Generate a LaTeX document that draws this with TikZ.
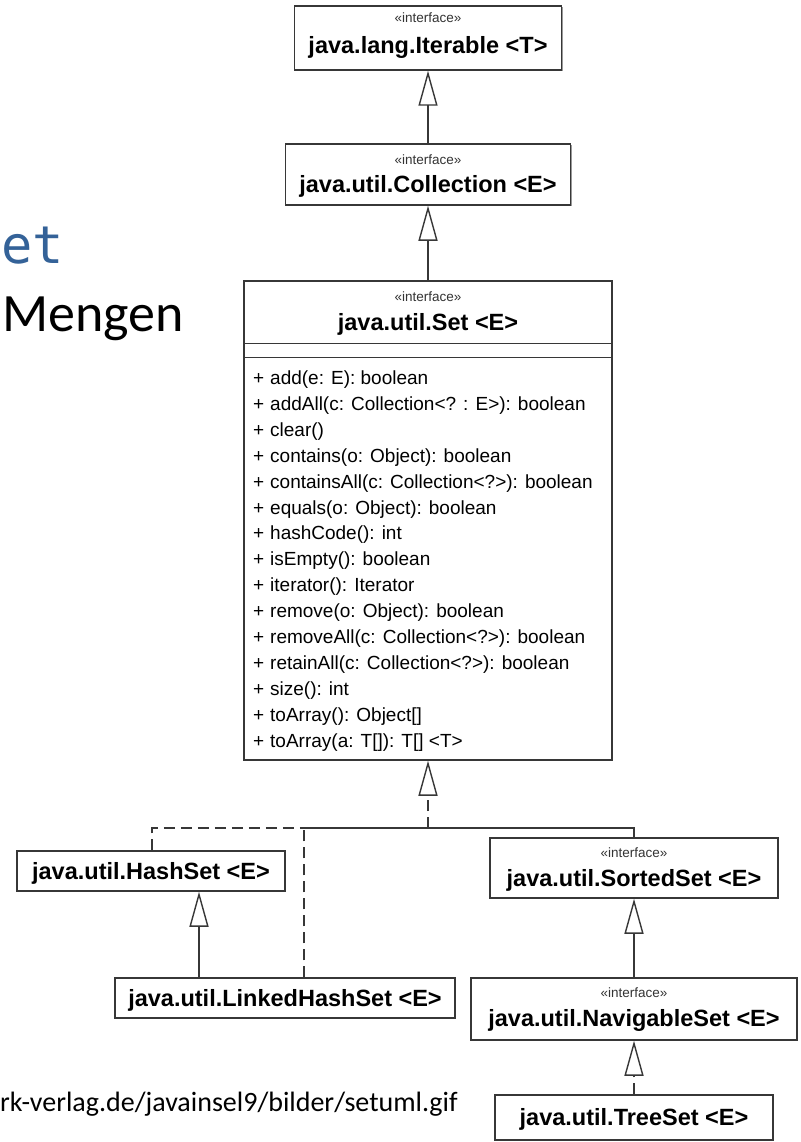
\documentclass[tikz,border=0pt]{standalone}
\usepackage{fontspec}
\setmainfont{Liberation Sans}
\newfontfamily\slidefont{Carlito}
\newfontfamily\codefont{DejaVu Sans Mono}
\usetikzlibrary{arrows.meta,shadows}
\definecolor{titleblue}{RGB}{52,98,152}
\definecolor{umlline}{RGB}{55,55,55}

\begin{document}
\begin{tikzpicture}[x=1pt,y=-1pt,
  umlbox/.style={draw=umlline, line width=1.5pt, fill=white, inner sep=0pt,
    drop shadow={shadow xshift=1.3pt, shadow yshift=-1.3pt, fill=black!40, opacity=1}},
  stereo/.style={anchor=base, inner sep=0pt, text=black!80, font=\fontsize{13.5}{14}\selectfont},
  cname/.style={anchor=base, inner sep=0pt, font=\bfseries\fontsize{23.5}{24}\selectfont},
  op/.style={anchor=base west, inner sep=0pt, font=\fontsize{19}{20}\selectfont},
  link/.style={draw=umlline, line width=1.4pt},
  gen/.style={link, -{Triangle[open, length=35pt, width=19pt, line width=1.4pt]}},
  realize/.style={link, dash pattern=on 11pt off 6pt},
  slide/.style={inner sep=0pt, anchor=base west}
]
\useasboundingbox (0,0) rectangle (800,1142);
\fill[white] (0,0) rectangle (800,1142);

% slide text around the diagram
\node[slide, font=\codefont\fontsize{52}{52}\selectfont, text=titleblue] (title) at (1,263) {et};
\node[slide, font=\slidefont\fontsize{54}{54}\selectfont] (subtitle) at (2,331) {Mengen};
\node[slide, font=\slidefont\fontsize{28}{28}\selectfont] (source) at (0,1111) {rk-verlag.de/javainsel9/bilder/setuml.gif};

% class boxes
\node[umlbox, minimum width=267, minimum height=64] (iter) at (428,38) {};
\node[umlbox, minimum width=285, minimum height=61] (coll) at (428,174.5) {};
\node[umlbox, minimum width=368, minimum height=479] (set) at (428,520.5) {};
\node[umlbox, minimum width=268, minimum height=40] (hash) at (151,871) {};
\node[umlbox, minimum width=340, minimum height=40] (lhash) at (285,998) {};
\node[umlbox, minimum width=288, minimum height=60] (sorted) at (634,868) {};
\node[umlbox, minimum width=326, minimum height=62] (navi) at (634,1009) {};
\node[umlbox, minimum width=278, minimum height=45] (tree) at (634,1117.5) {};

% compartments of java.util.Set
\draw[umlline, line width=1.4pt] ([yshift=-63]set.north west) -- ([yshift=-63]set.north east);
\draw[umlline, line width=1.4pt] ([yshift=-77]set.north west) -- ([yshift=-77]set.north east);

% names
\node[stereo] (iterS) at (428,22.5) {«interface»};
\node[cname] (iterN) at (428,54) {java.lang.Iterable <T>};
\node[stereo] (collS) at (428,164.5) {«interface»};
\node[cname] (collN) at (428,193) {java.util.Collection <E>};
\node[stereo] (setS) at (428,301.5) {«interface»};
\node[cname] (setN) at (428,330) {java.util.Set <E>};
\node[cname] (hashN) at (151,879) {java.util.HashSet <E>};
\node[cname] (lhashN) at (285,1006) {java.util.LinkedHashSet <E>};
\node[stereo] (sortedS) at (634,857.5) {«interface»};
\node[cname] (sortedN) at (634,886) {java.util.SortedSet <E>};
\node[stereo] (naviS) at (634,997.5) {«interface»};
\node[cname] (naviN) at (634,1026) {java.util.NavigableSet <E>};
\node[cname] (treeN) at (634,1125) {java.util.TreeSet <E>};

% operations of java.util.Set
\foreach \m [count=\i] in {
  {add(e: E): boolean},
  {addAll(c: Collection<? : E>): boolean},
  {clear()},
  {contains(o: Object): boolean},
  {containsAll(c: Collection<?>): boolean},
  {equals(o: Object): boolean},
  {hashCode(): int},
  {isEmpty(): boolean},
  {iterator(): Iterator},
  {remove(o: Object): boolean},
  {removeAll(c: Collection<?>): boolean},
  {retainAll(c: Collection<?>): boolean},
  {size(): int},
  {toArray(): Object[]},
  {toArray(a: T[]): T[] <T>}}
  \node[op] (op\i) at (253,{384.5+(\i-1)*25.9}) {\makebox[17pt][l]{+}\m};

% junction points below java.util.Set
\coordinate (jS) at (428,828);
\coordinate (jL) at (304,828);
\coordinate (jR) at (634,828);
\coordinate (hashTop) at (152,0);
\coordinate (lhashTop) at (199,0);

% generalisations and realisations
\draw[gen] (coll.north) -- (iter.south);
\draw[gen] (set.north) -- (coll.south);
\draw[realize, -{Triangle[open, length=35pt, width=19pt, line width=1.4pt]}] (jS) -- (set.south);
\draw[realize] (hash.north -| hashTop) |- (jL);
\draw[realize] (lhash.north -| jL) -- (jL);
\draw[link] (sorted.north) |- (jL);
\draw[gen] (lhash.north -| lhashTop) -- (hash.south -| lhashTop);
\draw[gen] (navi.north) -- (sorted.south);
\draw[realize, -{Triangle[open, length=35pt, width=19pt, line width=1.4pt]}] (tree.north) -- (navi.south);
\end{tikzpicture}
\end{document}
